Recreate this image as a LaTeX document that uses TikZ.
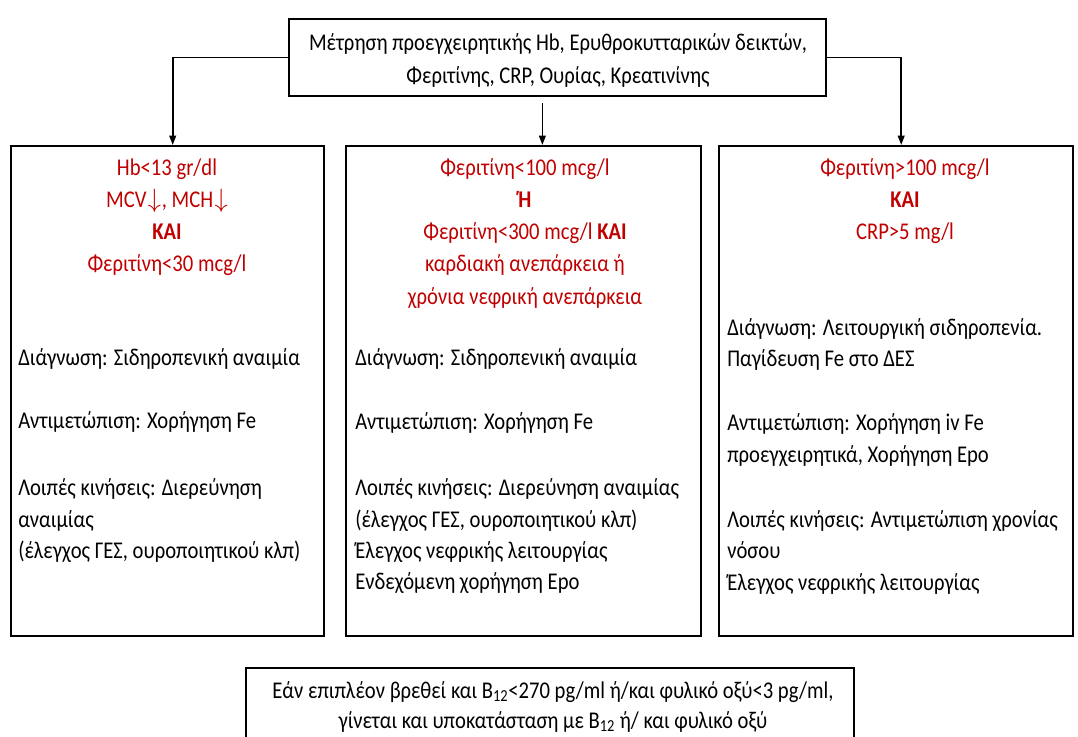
\documentclass[tikz,border=0pt]{standalone}
\usepackage{fontspec}
\setmainfont{Carlito}[FakeStretch=0.86]
\usetikzlibrary{arrows.meta,calc}
\definecolor{redtxt}{RGB}{192,0,0}
\newcommand{\dn}{\hspace{1pt}\raisebox{0pt}{\scalebox{1.15}[1.15]{$\downarrow$}}\hspace{0.5pt}}
\begin{document}
\begin{tikzpicture}[x=0.75pt,y=-0.75pt,
  box/.style={draw, line width=1.3pt, anchor=north west, inner sep=0pt},
  txt/.style={font=\fontsize{18}{24}\selectfont, inner sep=0pt},
  cond/.style={txt, text=redtxt, anchor=base},
  body/.style={txt, anchor=base west},
  head/.style={txt, anchor=base},
  arr/.style={-{Triangle[length=7pt,width=5pt]}, line width=1.3pt}]
\useasboundingbox (0,0) rectangle (1078,736);
\fill[white] (0,0) rectangle (1078,736);

% boxes
\node[box, minimum width=402.75pt, minimum height=57.75pt] (T) at (288,18) {};
\node[box, minimum width=234.75pt, minimum height=367.5pt] (L) at (10,145) {};
\node[box, minimum width=266.25pt, minimum height=367.5pt] (M) at (345,145) {};
\node[box, minimum width=265.5pt, minimum height=367.5pt] (R) at (718,145) {};
\node[box, minimum width=456pt, minimum height=62.25pt] (B) at (245,667) {};

% top text
\node[head] (t1) at (558,50) {Μέτρηση προεγχειρητικής Hb, Ερυθροκυτταρικών δεικτών,};
\node[head] (t2) at (558,83) {Φεριτίνης, CRP, Ουρίας, Κρεατινίνης};

% connectors
\draw[arr] (T.west) -| ([xshift=4pt]L.north);
\draw[arr] (T.east) -| ([xshift=4pt]R.north);
\draw[arr] ([xshift=-11.25pt,yshift=-5pt]T.south) -- ([xshift=-11.25pt]T.south |- M.north);

% left box
\node[cond] (lc1) at (167,175) {Hb<13 gr/dl};
\node[cond] (lc2) at (167,207) {MCV\dn, MCH\dn};
\node[cond] (lc3) at (167,239) {\textbf{ΚΑΙ}};
\node[cond] (lc4) at (167,271) {Φεριτίνη<30 mcg/l};
\node[body] (lb1) at (18,365) {Διάγνωση: Σιδηροπενική αναιμία};
\node[body] (lb2) at (18,428) {Αντιμετώπιση: Χορήγηση Fe};
\node[body] (lb3) at (18,495) {Λοιπές κινήσεις: Διερεύνηση};
\node[body] (lb4) at (18,527) {αναιμίας};
\node[body] (lb5) at (18,558) {(έλεγχος ΓΕΣ, ουροποιητικού κλπ)};

% middle box
\node[cond] (mc1) at (525,175) {Φεριτίνη<100 mcg/l};
\node[cond] (mc2) at (525,207) {\textbf{Ή}};
\node[cond] (mc3) at (525,239) {Φεριτίνη<300 mcg/l \textbf{ΚΑΙ}};
\node[cond] (mc4) at (525,271) {καρδιακή ανεπάρκεια ή};
\node[cond] (mc5) at (525,304) {χρόνια νεφρική ανεπάρκεια};
\node[body] (mb1) at (355,365) {Διάγνωση: Σιδηροπενική αναιμία};
\node[body] (mb2) at (355,429) {Αντιμετώπιση: Χορήγηση Fe};
\node[body] (mb3) at (355,495) {Λοιπές κινήσεις: Διερεύνηση αναιμίας};
\node[body] (mb4) at (355,527) {(έλεγχος ΓΕΣ, ουροποιητικού κλπ)};
\node[body] (mb5) at (355,558) {Έλεγχος νεφρικής λειτουργίας};
\node[body] (mb6) at (355,589) {Ενδεχόμενη χορήγηση Epo};

% right box
\node[cond] (rc1) at (905,175) {Φεριτίνη>100 mcg/l};
\node[cond] (rc2) at (905,207) {\textbf{ΚΑΙ}};
\node[cond] (rc3) at (905,239) {CRP>5 mg/l};
\node[body] (rb1) at (727,335) {Διάγνωση: Λειτουργική σιδηροπενία.};
\node[body] (rb2) at (727,366) {Παγίδευση Fe στο ΔΕΣ};
\node[body] (rb3) at (727,430) {Αντιμετώπιση: Χορήγηση iv Fe};
\node[body] (rb4) at (727,462) {προεγχειρητικά, Χορήγηση Epo};
\node[body] (rb5) at (727,527) {Λοιπές κινήσεις: Αντιμετώπιση χρονίας};
\node[body] (rb6) at (727,558) {νόσου};
\node[body] (rb7) at (727,590) {Έλεγχος νεφρικής λειτουργίας};

% bottom box
\node[head] (b1) at (553,698) {Εάν επιπλέον βρεθεί και B\textsubscript{12}<270 pg/ml ή/και φυλικό οξύ<3 pg/ml,};
\node[head] (b2) at (553,728) {γίνεται και υποκατάσταση με B\textsubscript{12} ή/ και φυλικό οξύ};
\end{tikzpicture}
\end{document}
